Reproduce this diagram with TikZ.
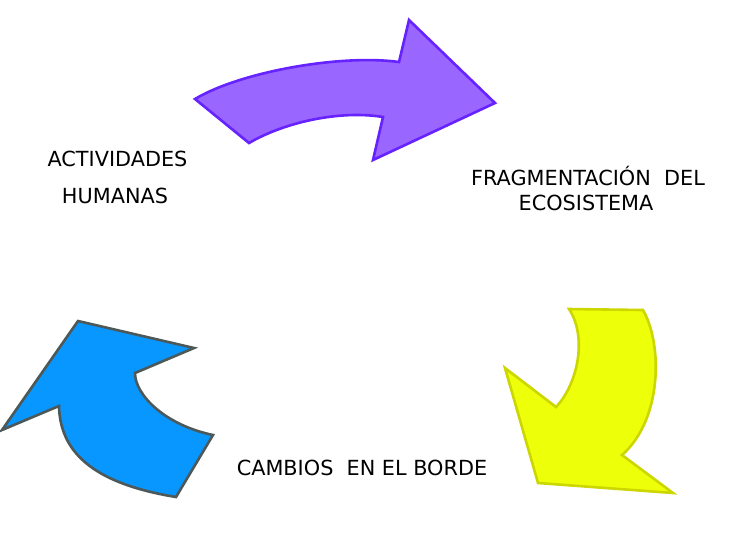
\documentclass[tikz,border=0pt]{standalone}
\usepackage{fontspec}
\setmainfont{DejaVu Sans}
\definecolor{pfill}{RGB}{153,102,255}
\definecolor{pdraw}{RGB}{102,34,255}
\definecolor{yfill}{RGB}{238,255,10}
\definecolor{ydraw}{RGB}{204,214,0}
\definecolor{bfill}{RGB}{8,150,255}
\definecolor{bdraw}{RGB}{77,89,89}
\tikzset{
  cyc/.style={line width=2.6pt, line join=miter},
  lbl/.style={anchor=base, inner sep=0pt, font=\fontsize{20.8}{24}\selectfont},
}
\begin{document}
\begin{tikzpicture}[x=1pt,y=-1pt]
\useasboundingbox (0,0) rectangle (730,552);
% purple arrow
\draw[cyc, fill=pfill, draw=pdraw]
  (195,99) .. controls (240,72) and (340,54) .. (399,62)
  -- (409,20) -- (495,103) -- (373,160) -- (383,117)
  .. controls (340,110) and (285,122) .. (249,143) -- cycle;
% yellow arrow
\draw[cyc, fill=yfill, draw=ydraw]
  (569,309) -- (643,310)
  .. controls (663,345) and (662,420) .. (622,455)
  -- (673,493) -- (538,483) -- (505,368) -- (556,407)
  .. controls (577,385) and (588,338) .. (569,309) -- cycle;
% blue arrow
\draw[cyc, fill=bfill, draw=bdraw]
  (176,497) -- (213,435)
  .. controls (165,425) and (135,395) .. (135,373)
  -- (194,348) -- (78,321) -- (2,430) -- (59,406)
  .. controls (60,450) and (90,483) .. (176,497) -- cycle;
% labels
\node[lbl] (act) at (117.5,166) {ACTIVIDADES};
\node[lbl] (hum) at (115,203) {HUMANAS};
\node[lbl] (frag) at (588,185) {FRAGMENTACIÓN\ \ DEL};
\node[lbl] (eco) at (586,210) {ECOSISTEMA};
\node[lbl] (camb) at (362,475) {CAMBIOS\ \ EN EL BORDE};
\end{tikzpicture}
\end{document}
